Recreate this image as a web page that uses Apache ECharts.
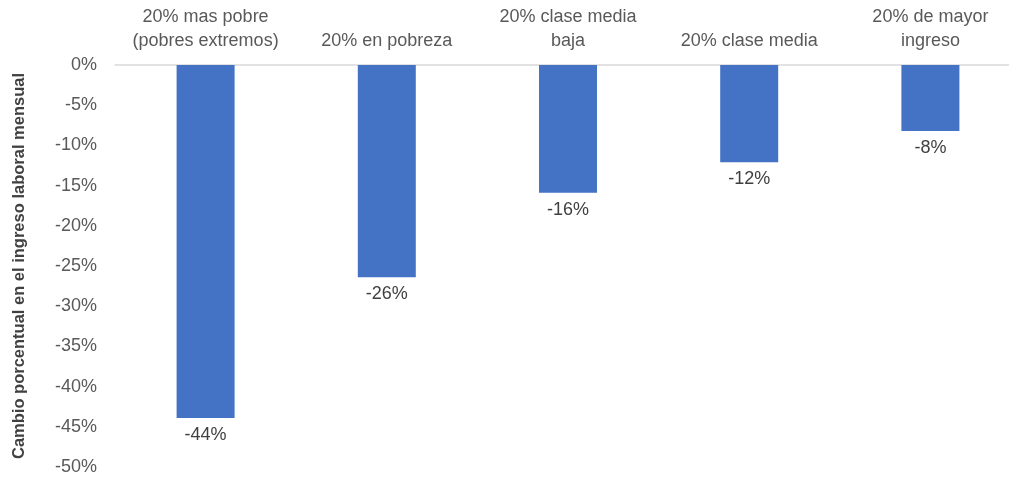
<!DOCTYPE html>
<html>
<head>
<meta charset="utf-8">
<script src="https://cdn.jsdelivr.net/npm/echarts@6/dist/echarts.min.js"></script>
<style>
  html, body { margin: 0; padding: 0; background: #fff; overflow: hidden; }
  #chart { width: 1021px; height: 479px; }
</style>
</head>
<body>
<div id="chart"></div>
<script>
const categories = [
  "20% mas pobre\n(pobres extremos)",
  "20% en pobreza",
  "20% clase media\nbaja",
  "20% clase media",
  "20% de mayor\ningreso"
];
const changePct = [-43.9, -26.4, -15.9, -12.1, -8.2];
const yTicks = { min: -50, max: 0, step: 5 };

// the plot area runs a little past the right edge of the visible picture
const chart = echarts.init(document.getElementById("chart"));
chart.setOption({
  backgroundColor: "#fff",
  textStyle: { fontFamily: "Liberation Sans, Arial, sans-serif" },
  grid: { left: 115, top: 65, width: 906, height: 402 },
  xAxis: {
    type: "category",
    position: "top",
    data: categories,
    axisLine: { lineStyle: { color: "#d9d9d9", width: 1.5 } },
    axisTick: { show: false },
    axisLabel: { color: "#595959", fontSize: 18, lineHeight: 24, margin: 12, interval: 0 }
  },
  yAxis: {
    type: "value",
    min: yTicks.min,
    max: yTicks.max,
    interval: yTicks.step,
    name: "Cambio porcentual en el ingreso laboral mensual",
    nameLocation: "middle",
    nameGap: 87,
    nameTextStyle: { color: "#404040", fontSize: 16.5, fontWeight: "bold" },
    axisLine: { show: false },
    axisTick: { show: false },
    splitLine: { show: false },
    axisLabel: { color: "#595959", fontSize: 18, margin: 18, formatter: v => v + "%" }
  },
  series: [{
    type: "bar",
    data: changePct,
    barWidth: 58,
    itemStyle: { color: "#4472C4" },
    label: {
      show: true,
      position: "bottom",
      distance: 8,
      color: "#404040",
      fontSize: 18,
      formatter: p => Math.round(p.value) + "%"
    }
  }]
});
</script>
</body>
</html>
